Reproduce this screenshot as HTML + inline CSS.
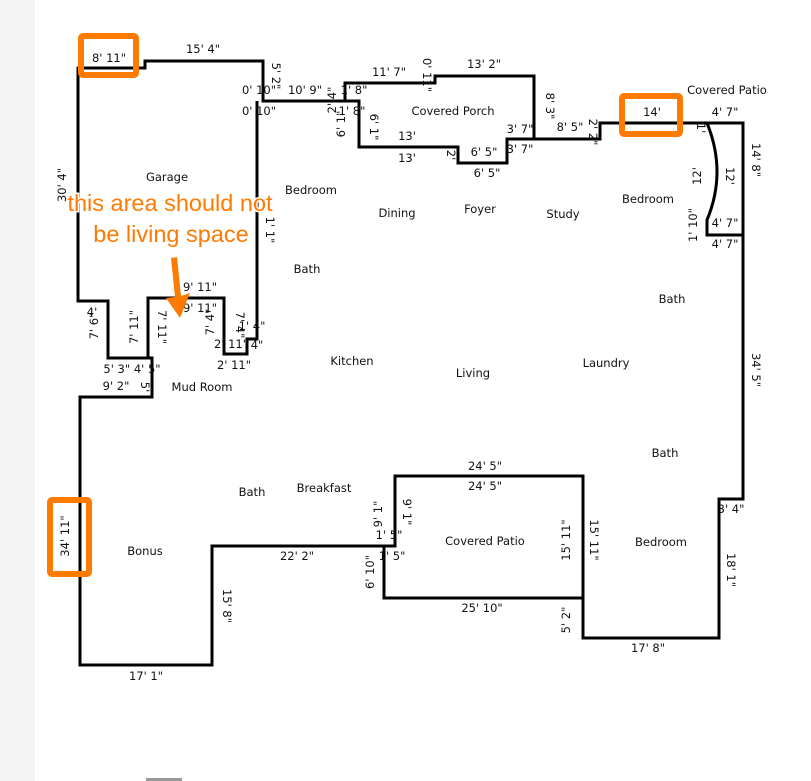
<!DOCTYPE html>
<html><head><meta charset="utf-8"><style>
html,body{margin:0;padding:0;background:#fff;width:811px;height:781px;overflow:hidden}
svg{display:block}
text{font-family:"DejaVu Sans","Liberation Sans",sans-serif;font-size:11.5px;fill:#111;text-anchor:middle}
.o{font-family:"Liberation Sans",sans-serif;font-size:23.5px;fill:#ff7a00;stroke:#fff;stroke-width:3;paint-order:stroke;text-anchor:middle}
</style></head><body>
<svg width="811" height="781" viewBox="0 0 811 781" xmlns="http://www.w3.org/2000/svg">
<rect x="0" y="0" width="35" height="781" fill="#f4f4f4"/>
<rect x="146" y="778" width="36" height="3" fill="#999"/>
<g fill="none" stroke="#000" stroke-width="3">
<path d="M78,68 H145 V61 H263 V101 H345 V83 H435 V76 H534 V139 H600 V123 H743 V499 H719 V638 H583 V476 H395 V546 H212 V665 H80 V397 H152 V358 H108 V301 H78 Z"/>
<path d="M257,101 V339 H247 V354 H224 V298 H148 V358"/>
<path d="M345,101 H359 V147 H458 V163 H507 V139 H534"/>
<path d="M384,546 V598 H583"/>
<path d="M707,123 Q727,172 707,220 V235 H743"/>
</g>
<g>
<text x="109" y="62">8' 11"</text><text x="203" y="53">15' 4"</text>
<text transform="translate(272,76) rotate(90)">5' 2"</text>
<text x="259" y="94">0' 10"</text><text x="305" y="94">10' 9"</text><text x="259" y="115">0' 10"</text>
<text transform="translate(336,100) rotate(-90)">2' 4"</text>
<text x="354" y="94">1' 8"</text><text x="352" y="115">1' 8"</text>
<text transform="translate(345,124) rotate(-90)">6' 1"</text>
<text transform="translate(370,127) rotate(90)">6' 1"</text>
<text x="389" y="76">11' 7"</text><text transform="translate(423,75) rotate(90)">0' 11"</text>
<text x="484" y="68">13' 2"</text><text x="453" y="115">Covered Porch</text>
<text x="407" y="140">13'</text><text x="407" y="162">13'</text>
<text transform="translate(447,155) rotate(90)">2'</text>
<text x="484" y="156">6' 5"</text><text x="520" y="133">3' 7"</text><text x="520" y="153">3' 7"</text>
<text x="487" y="177">6' 5"</text>
<text transform="translate(546,106) rotate(90)">8' 3"</text>
<text x="570" y="131">8' 5"</text><text transform="translate(589,132) rotate(90)">2' 2"</text>
<text x="652" y="116">14'</text><text x="727" y="94">Covered Patio</text>
<text x="725" y="116">4' 7"</text><text transform="translate(697,128) rotate(90)">1'</text>
<text transform="translate(701,176) rotate(-90)">12'</text><text transform="translate(726,176) rotate(90)">12'</text>
<text transform="translate(752,160) rotate(90)">14' 8"</text>
<text transform="translate(697,225) rotate(-90)">1' 10"</text>
<text x="725" y="227">4' 7"</text><text x="725" y="248">4' 7"</text>
<text x="648" y="203">Bedroom</text><text x="563" y="218">Study</text><text x="480" y="213">Foyer</text>
<text x="397" y="217">Dining</text><text x="311" y="194">Bedroom</text><text x="307" y="273">Bath</text>
<text transform="translate(66,185) rotate(-90)">30' 4"</text>
<text x="167" y="181">Garage</text>
<text transform="translate(266,230) rotate(90)">1' 1"</text>
<text x="200" y="291">9' 11"</text><text x="200" y="312">9' 11"</text>
<text x="92" y="316">4'</text><text transform="translate(98,326) rotate(-90)">7' 6"</text>
<text transform="translate(138,327) rotate(-90)">7' 11"</text><text transform="translate(158,327) rotate(90)">7' 11"</text>
<text transform="translate(214,322) rotate(-90)">7' 4"</text><text transform="translate(236,325) rotate(90)">7' 4"</text>
<text x="252" y="330">1' 4"</text><text x="231" y="348">2' 11"</text><text x="257" y="349">4"</text>
<text x="234" y="369">2' 11"</text><text x="132" y="373">5' 3" 4' 5"</text>
<text x="116" y="390">9' 2"</text><text transform="translate(141,387) rotate(90)">5'</text>
<text x="202" y="391">Mud Room</text><text x="352" y="365">Kitchen</text><text x="473" y="377">Living</text>
<text x="606" y="367">Laundry</text><text x="672" y="303">Bath</text>
<text transform="translate(752,370) rotate(90)">34' 5"</text>
<text x="665" y="457">Bath</text><text x="485" y="470">24' 5"</text><text x="485" y="490">24' 5"</text>
<text x="252" y="496">Bath</text><text x="324" y="492">Breakfast</text>
<text transform="translate(382,514) rotate(-90)">9' 1"</text><text transform="translate(403,512) rotate(90)">9' 1"</text>
<text x="389" y="539">1' 5"</text><text x="392" y="560">1' 5"</text>
<text transform="translate(374,572) rotate(-90)">6' 10"</text>
<text x="485" y="545">Covered Patio</text>
<text transform="translate(570,540) rotate(-90)">15' 11"</text><text transform="translate(590,540) rotate(90)">15' 11"</text>
<text x="661" y="546">Bedroom</text><text x="731" y="513">3' 4"</text>
<text transform="translate(727,570) rotate(90)">18' 1"</text>
<text x="145" y="555">Bonus</text>
<text transform="translate(69,536) rotate(-90)">34' 11"</text>
<text x="297" y="560">22' 2"</text><text transform="translate(223,606) rotate(90)">15' 8"</text>
<text x="482" y="612">25' 10"</text><text transform="translate(570,620) rotate(-90)">5' 2"</text>
<text x="648" y="652">17' 8"</text><text x="146" y="680">17' 1"</text>
</g>
<g fill="none" stroke="#ff7a00" stroke-width="6">
<rect x="81" y="36" width="55" height="39" rx="2"/>
<rect x="622" y="96" width="58" height="38" rx="2"/>
<rect x="50" y="500" width="39" height="74" rx="2"/>
</g>
<text class="o" x="170" y="211">this area should not</text>
<text class="o" x="171" y="242">be living space</text>
<path d="M171,258 L177,257 L181,296 L190,293 L180,318 L166,298 L175,297 Z" fill="#ff7a00"/>
</svg>
</body></html>
